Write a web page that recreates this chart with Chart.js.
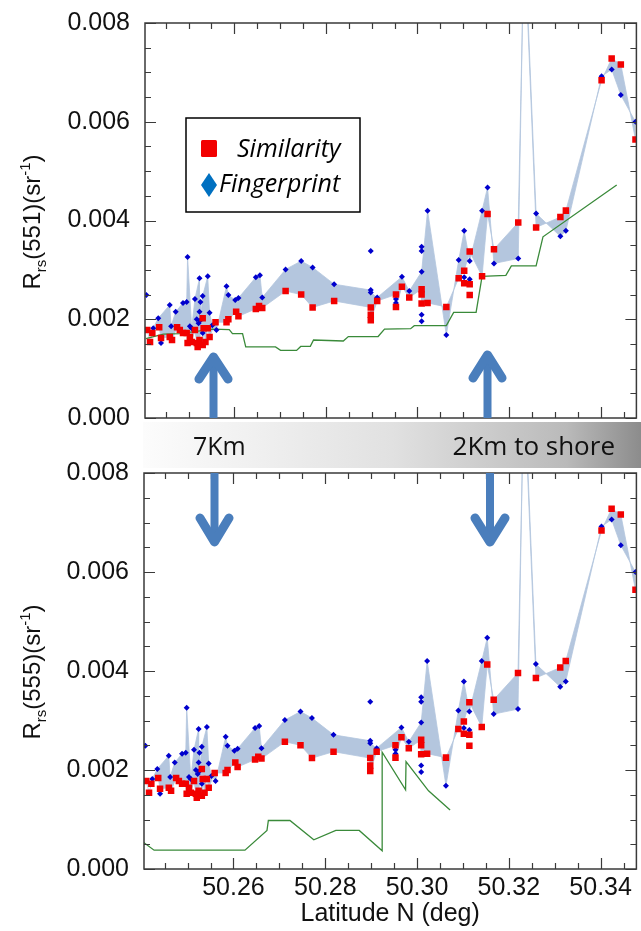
<!DOCTYPE html>
<html>
<head>
<meta charset="utf-8">
<script src="https://cdn.jsdelivr.net/npm/chart.js@4.4.1/dist/chart.umd.min.js"></script>
<style>
  html, body { margin: 0; padding: 0; background: #fff; }
  #page { position: relative; width: 641px; height: 931px; overflow: hidden; }
  canvas { position: absolute; left: 0; }
  #top { top: 0; }
  #bot { top: 450px; }
  svg { position: absolute; left: 0; top: 0; }
</style>
</head>
<body>
<div id="page">
  <canvas id="top" width="641" height="433"></canvas>
  <canvas id="bot" width="641" height="481"></canvas>
  <svg width="641" height="931" font-family="Liberation Sans, Arial, sans-serif">
    <defs>
      <linearGradient id="band" x1="0" x2="1" y1="0" y2="0">
        <stop offset="0" stop-color="#fcfcfc"/>
        <stop offset="0.5" stop-color="#e1e1e1"/>
        <stop offset="0.85" stop-color="#bababa"/>
        <stop offset="1" stop-color="#8c8c8c"/>
      </linearGradient>
    </defs>

    <!-- arrows -->
    <g stroke="#4a7ebc" fill="none">
      <path d="M213.5 418 V362 M487.5 418 V360 M214.5 473 V540 M490 473 V540" stroke-width="8"/>
      <path d="M199 379 L213.5 357 L228 379 M473 378 L487.5 355 L502 378 M200 518 L214.5 542 L229 518 M475 518 L490 542 L505 518"
            stroke-width="9" stroke-linecap="round" stroke-linejoin="round"/>
    </g>

    <!-- distance band -->
    <rect x="143" y="422" width="498" height="46" fill="url(#band)"/>
    <text x="193" y="455" font-family="Open Sans" font-size="25" fill="#111">7Km</text>
    <text x="615" y="455" font-family="Open Sans" font-size="26" fill="#111" text-anchor="end">2Km to shore</text>

    <!-- legend -->
    <rect x="186" y="118" width="174" height="94" fill="#fff" stroke="#000" stroke-width="1.5"/>
    <rect x="201" y="140" width="16" height="17" rx="1.5" fill="#f20000"/>
    <text x="237" y="157" font-family="Open Sans" font-style="italic" font-size="25" fill="#000">Similarity</text>
    <polygon points="209,173 217,185 209,197 201,185" fill="#0070c0"/>
    <text x="219" y="192" font-family="Open Sans" font-style="italic" font-size="25" fill="#000">Fingerprint</text>

    <!-- y axis titles -->
    <text transform="translate(40,222) rotate(-90)" text-anchor="middle" font-size="24" fill="#111">R<tspan font-size="15" dy="6">rs</tspan><tspan dy="-6">(551)(sr</tspan><tspan font-size="15" dy="-10">-1</tspan><tspan dy="10">)</tspan></text>
    <text transform="translate(40,672) rotate(-90)" text-anchor="middle" font-size="24" fill="#111">R<tspan font-size="15" dy="6">rs</tspan><tspan dy="-6">(555)(sr</tspan><tspan font-size="15" dy="-10">-1</tspan><tspan dy="10">)</tspan></text>
  </svg>
</div>
<script>
// Similarity estimates (red squares), Rrs in sr^-1
const simLat = [50.2410, 50.2416, 50.2421, 50.2436, 50.2440, 50.2459, 50.2464, 50.2475, 50.2481, 50.2488,
  50.2496, 50.2498, 50.2503, 50.2507, 50.2514, 50.2518, 50.2520, 50.2524, 50.2531, 50.2531,
  50.2533, 50.2537, 50.2542, 50.2546, 50.2559, 50.2583, 50.2587, 50.2604, 50.2609, 50.2647,
  50.2654, 50.2661, 50.2712, 50.2746, 50.2771, 50.2818, 50.2898, 50.2898, 50.2898, 50.2912,
  50.2953, 50.2953, 50.2966, 50.2982, 50.3009, 50.3009, 50.3009, 50.3022, 50.3063, 50.3090,
  50.3102, 50.3114, 50.3141, 50.3153, 50.3167, 50.3220, 50.3233, 50.3259, 50.3312, 50.3324,
  50.3402, 50.3424, 50.3444, 50.3476];
const simVal = [0.00178, 0.00154, 0.00172, 0.00184, 0.00162, 0.00164, 0.00158, 0.00184, 0.00178, 0.00172,
  0.00172, 0.00152, 0.00164, 0.00154, 0.00178, 0.00152, 0.00144, 0.00158, 0.00202, 0.00148,
  0.00182, 0.00154, 0.00182, 0.00164, 0.00194, 0.00194, 0.00200, 0.00215, 0.00206, 0.00221,
  0.00227, 0.00223, 0.00257, 0.00250, 0.00224, 0.00237, 0.00224, 0.00209, 0.00198, 0.00237,
  0.00250, 0.00225, 0.00266, 0.00244, 0.00261, 0.00250, 0.00232, 0.00233, 0.00225, 0.00283,
  0.00298, 0.00337, 0.00287, 0.00413, 0.00342, 0.00396, 0.00980, 0.00386, 0.00407, 0.00420,
  0.00684, 0.00728, 0.00716, 0.00564];
// similarity points outside the shaded band
const simLoneLat = [50.3102, 50.3114, 50.3114];
const simLoneVal = [0.00273, 0.00271, 0.00249];

// Fingerprint estimates (blue diamonds)
const fpLat = [50.2423, 50.2434, 50.2459, 50.2462, 50.2472, 50.2488, 50.2496, 50.2498, 50.2507, 50.2514,
  50.2524, 50.2524, 50.2526, 50.2526, 50.2531, 50.2542, 50.2546, 50.2552, 50.2561, 50.2583,
  50.2587, 50.2602, 50.2609, 50.2647, 50.2656, 50.2661, 50.2712, 50.2746, 50.2771, 50.2818,
  50.2898, 50.2898, 50.2912, 50.2966, 50.2982, 50.3009, 50.3022, 50.3063, 50.3090, 50.3102,
  50.3114, 50.3141, 50.3153, 50.3167, 50.3220, 50.3233, 50.3259, 50.3312, 50.3324, 50.3402,
  50.3424, 50.3444, 50.3476];
const fpVal = [0.00182, 0.00202, 0.00229, 0.00186, 0.00215, 0.00233, 0.00235, 0.00326, 0.00182, 0.00241,
  0.00283, 0.00215, 0.00235, 0.00198, 0.00247, 0.00287, 0.00213, 0.00188, 0.00178, 0.00267,
  0.00249, 0.00239, 0.00243, 0.00285, 0.00289, 0.00244, 0.00301, 0.00318, 0.00305, 0.00271,
  0.00259, 0.00254, 0.00244, 0.00286, 0.00257, 0.00296, 0.00420, 0.00168, 0.00320, 0.00379,
  0.00318, 0.00420, 0.00467, 0.00313, 0.00323, 0.01000, 0.00414, 0.00368, 0.00379, 0.00692,
  0.00706, 0.00654, 0.00600];
const fpLoneLat = [50.2408, 50.2440, 50.2503, 50.2518, 50.2522, 50.2531, 50.2898, 50.2953, 50.2953,
  50.3009, 50.3009, 50.3009, 50.3009, 50.3102, 50.3114];
const fpLoneVal = [0.00249, 0.00152, 0.00186, 0.00200, 0.00192, 0.00172, 0.00338, 0.00241, 0.00233,
  0.00347, 0.00338, 0.00209, 0.00196, 0.00285, 0.00281];

// green reference lines
const g551Lat = [50.2407, 50.2445, 50.2481, 50.2553, 50.2589, 50.2596, 50.2618, 50.2625, 50.2690, 50.2701,
  50.2736, 50.2745, 50.2766, 50.2773, 50.2838, 50.2849, 50.2914, 50.2928, 50.2985, 50.2993,
  50.3063, 50.3079, 50.3128, 50.3141, 50.3193, 50.3205, 50.3259, 50.3274, 50.3435];
const g551Val = [0.00161, 0.00170, 0.00171, 0.00180, 0.00179, 0.00171, 0.00171, 0.00144, 0.00144, 0.00137,
  0.00137, 0.00145, 0.00145, 0.00158, 0.00156, 0.00165, 0.00165, 0.00180, 0.00181, 0.00187,
  0.00187, 0.00214, 0.00214, 0.00287, 0.00289, 0.00308, 0.00308, 0.00367, 0.00472];
const g555Lat = [50.2402, 50.2427, 50.2625, 50.2673, 50.2676, 50.2723, 50.2775, 50.2823, 50.2874, 50.2924,
  50.2924, 50.2975, 50.2976, 50.3025, 50.3072];
const g555Val = [0.00055, 0.00038, 0.00038, 0.00078, 0.00098, 0.00098, 0.00059, 0.00078, 0.00078, 0.00037,
  0.00236, 0.00160, 0.00217, 0.00158, 0.00119];

const xMajor = [50.26, 50.28, 50.30, 50.32, 50.34];
const yMajor = [0, 0.002, 0.004, 0.006, 0.008];

const RED = "#f20000";
const BLUE = "#0000cd";
const SHADE = "#b4c6de";
const GREEN = "#3a8a3a";
const FONT = "Liberation Sans, Arial, sans-serif";

const pts = (xs, ys) => xs.map((x, i) => ({ x, y: ys[i] }));

// inward ticks on all four sides plus the box
const frameTicks = {
  id: "frameTicks",
  afterDraw(chart) {
    const { ctx, chartArea: a, scales: { x, y } } = chart;
    ctx.save();
    ctx.strokeStyle = "#3a3a3a";
    ctx.lineWidth = 1.2;
    ctx.beginPath();
    for (let i = 0; i <= 16; i++) {
      const py = Math.round(y.getPixelForValue(i * 0.0005)) + 0.5;
      const len = i % 4 === 0 ? 11 : 6;
      ctx.moveTo(a.left, py); ctx.lineTo(a.left + len, py);
      ctx.moveTo(a.right, py); ctx.lineTo(a.right - len, py);
    }
    for (let k = 0; k <= 20; k++) {
      const px = Math.round(x.getPixelForValue(50.245 + k * 0.005)) + 0.5;
      const len = (k - 3) % 4 === 0 ? 11 : 6;
      ctx.moveTo(px, a.top); ctx.lineTo(px, a.top + len);
      ctx.moveTo(px, a.bottom); ctx.lineTo(px, a.bottom - len);
    }
    ctx.stroke();
    ctx.lineWidth = 1.5;
    ctx.strokeRect(a.left, a.top, a.right - a.left, a.bottom - a.top);
    ctx.restore();
  },
};

function makeChart(id, gLat, gVal, yWidth, showX) {
  const square = { type: "scatter", pointStyle: "rect", pointRadius: 4.6, backgroundColor: RED, borderWidth: 0 };
  const diamond = { type: "scatter", pointStyle: "rectRot", pointRadius: 3, backgroundColor: BLUE, borderWidth: 0 };
  return new Chart(document.getElementById(id), {
    type: "scatter",
    data: {
      datasets: [
        { ...square, data: pts(simLat, simVal) },
        { ...square, data: pts(simLoneLat, simLoneVal) },
        { ...diamond, data: pts(fpLat, fpVal) },
        { ...diamond, data: pts(fpLoneLat, fpLoneVal) },
        { type: "line", data: pts(gLat, gVal), showLine: true, borderColor: GREEN, borderWidth: 1.3, pointRadius: 0, fill: false, tension: 0 },
        { type: "line", data: pts(fpLat, fpVal), showLine: true, borderColor: SHADE, borderWidth: 0.8, pointRadius: 0, fill: "+1", backgroundColor: SHADE, tension: 0 },
        { type: "line", data: pts(simLat, simVal), showLine: true, borderColor: SHADE, borderWidth: 0.8, pointRadius: 0, fill: false, tension: 0 },
      ],
    },
    options: {
      animation: false,
      responsive: false,
      devicePixelRatio: 1,
      layout: { padding: { left: 0, right: 1, top: 23, bottom: showX ? 0 : 15 } },
      plugins: { legend: { display: false }, tooltip: { enabled: false } },
      scales: {
        x: {
          type: "linear",
          min: 50.2405,
          max: 50.3478,
          display: showX,
          grid: { display: false, drawTicks: false },
          border: { display: false },
          afterBuildTicks: (s) => { s.ticks = xMajor.map((v) => ({ value: v })); },
          afterFit: (s) => {
            s.height = showX ? 62 : 0;
            s.paddingLeft = 0;
            s.paddingRight = 0;
          },
          ticks: { callback: (v) => v.toFixed(2), font: { family: FONT, size: 25 }, color: "#111", padding: 4, maxRotation: 0, autoSkip: false },
          title: { display: true, text: "Latitude N (deg)", font: { family: FONT, size: 25 }, color: "#111", padding: { top: 0, bottom: 2 } },
        },
        y: {
          min: 0,
          max: 0.008,
          grid: { display: false, drawTicks: false },
          border: { display: false },
          afterBuildTicks: (s) => { s.ticks = yMajor.map((v) => ({ value: v })); },
          afterFit: (s) => {
            s.width = yWidth;
            s.paddingTop = 0;
            s.paddingBottom = 0;
          },
          ticks: { callback: (v) => v.toFixed(3), font: { family: FONT, size: 25 }, color: "#111", padding: 15 },
        },
      },
    },
    plugins: [frameTicks],
  });
}

makeChart("top", g551Lat, g551Val, 145, false);
makeChart("bot", g555Lat, g555Val, 144, true);
</script>
</body>
</html>
